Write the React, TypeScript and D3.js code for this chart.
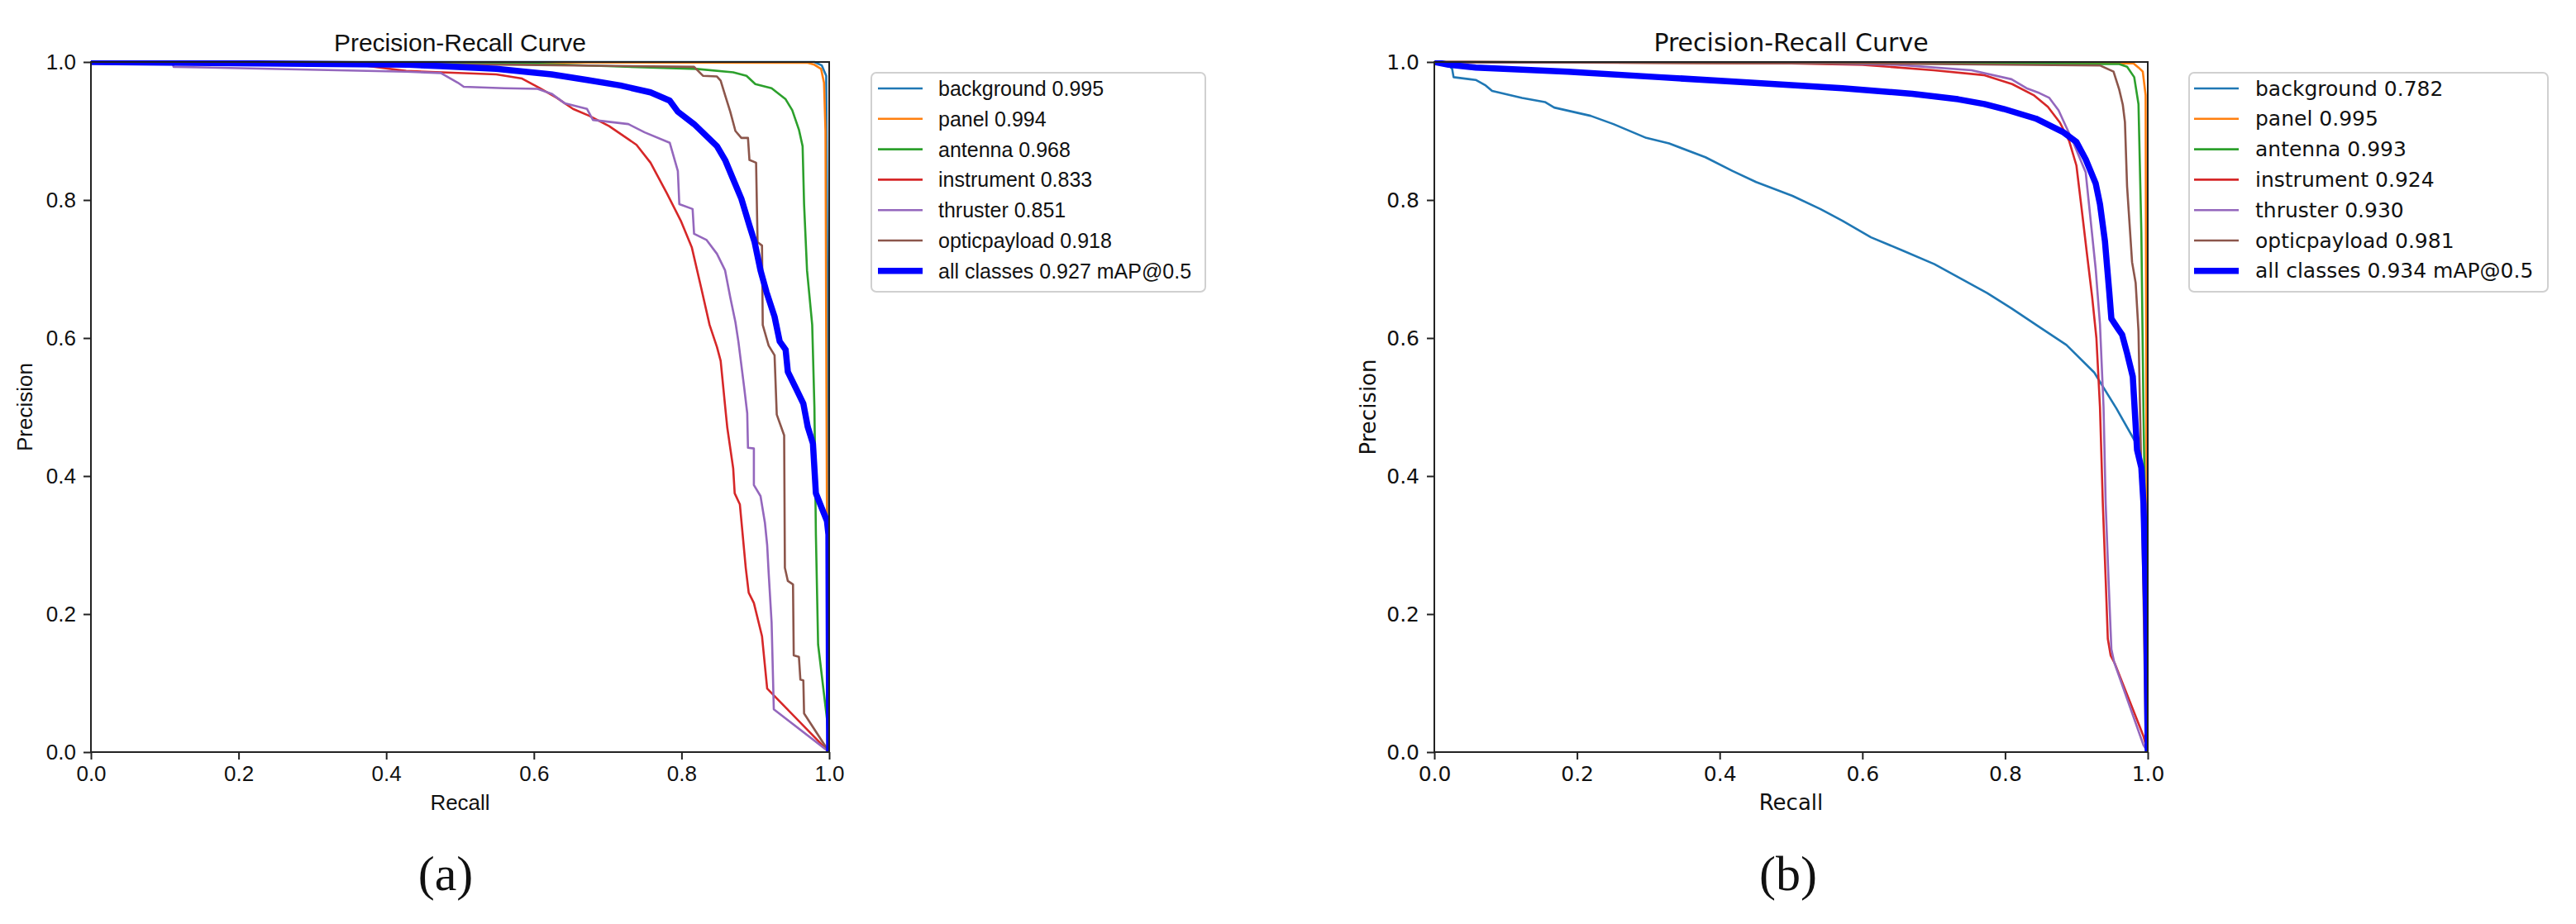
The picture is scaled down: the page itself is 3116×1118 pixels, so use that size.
import * as d3 from 'd3';
import { useRef, useEffect } from 'react';

type Pt = [number, number];

// CLASS NAMES, COLOURS, AP VALUES
const classNames = ['background', 'panel', 'antenna', 'instrument', 'thruster', 'opticpayload'];
const classColors = ['#1f77b4', '#ff7f0e', '#2ca02c', '#d62728', '#9467bd', '#8c564b'];
const allColor = '#0000ff';
const apA = ['0.995', '0.994', '0.968', '0.833', '0.851', '0.918'];
const mapA = '0.927';
const apB = ['0.782', '0.995', '0.993', '0.924', '0.930', '0.981'];
const mapB = '0.934';
const axisTicks = [0, 0.2, 0.4, 0.6, 0.8, 1.0];

// PANEL (a) CURVES  [recall, precision]
const aBackground: Pt[] = [[0, 1], [0.98, 1], [0.99, 0.995], [0.996, 0.98], [0.998, 0.6], [0.999, 0.3], [1, 0]];
const aPanel: Pt[] = [[0, 1], [0.97, 0.999], [0.98, 0.996], [0.989, 0.99], [0.993, 0.97], [0.995, 0.9], [0.996, 0.6], [0.997, 0.34], [1, 0]];
const aAntenna: Pt[] = [[0, 1], [0.58, 0.998], [0.7, 0.994], [0.82, 0.99], [0.87, 0.985], [0.888, 0.98], [0.9, 0.968], [0.922, 0.962], [0.941, 0.946], [0.95, 0.93], [0.959, 0.902], [0.964, 0.878], [0.966, 0.794], [0.97, 0.698], [0.977, 0.619], [0.98, 0.5], [0.982, 0.315], [0.985, 0.156], [0.997, 0.048], [1, 0]];
const aInstrument: Pt[] = [[0, 1], [0.37, 0.995], [0.427, 0.987], [0.549, 0.982], [0.584, 0.976], [0.608, 0.962], [0.631, 0.948], [0.653, 0.932], [0.675, 0.922], [0.702, 0.907], [0.739, 0.88], [0.758, 0.854], [0.78, 0.81], [0.799, 0.77], [0.814, 0.731], [0.827, 0.671], [0.838, 0.619], [0.848, 0.587], [0.853, 0.567], [0.86, 0.491], [0.862, 0.47], [0.87, 0.411], [0.872, 0.375], [0.879, 0.359], [0.887, 0.267], [0.891, 0.231], [0.898, 0.216], [0.909, 0.168], [0.916, 0.092], [1, 0]];
const aThruster: Pt[] = [[0, 1], [0.11, 1], [0.112, 0.993], [0.427, 0.986], [0.474, 0.984], [0.497, 0.97], [0.505, 0.964], [0.56, 0.962], [0.605, 0.961], [0.624, 0.954], [0.642, 0.94], [0.672, 0.932], [0.68, 0.916], [0.728, 0.91], [0.75, 0.898], [0.784, 0.883], [0.795, 0.842], [0.797, 0.794], [0.815, 0.787], [0.817, 0.751], [0.834, 0.742], [0.848, 0.722], [0.859, 0.698], [0.866, 0.659], [0.873, 0.623], [0.877, 0.595], [0.885, 0.527], [0.889, 0.491], [0.89, 0.441], [0.898, 0.44], [0.898, 0.387], [0.907, 0.371], [0.913, 0.332], [0.916, 0.3], [0.918, 0.26], [0.922, 0.188], [0.925, 0.062], [1, 0]];
const aOpticpayload: Pt[] = [[0, 1], [0.58, 0.996], [0.817, 0.993], [0.829, 0.98], [0.848, 0.979], [0.853, 0.973], [0.859, 0.952], [0.866, 0.928], [0.873, 0.9], [0.881, 0.89], [0.89, 0.89], [0.892, 0.858], [0.901, 0.854], [0.903, 0.739], [0.909, 0.734], [0.91, 0.619], [0.918, 0.589], [0.926, 0.575], [0.929, 0.489], [0.939, 0.459], [0.94, 0.267], [0.944, 0.248], [0.951, 0.243], [0.952, 0.14], [0.959, 0.138], [0.961, 0.105], [0.965, 0.104], [0.966, 0.056], [1, 0]];
const aAll: Pt[] = [[0, 1], [0.43, 0.996], [0.474, 0.994], [0.549, 0.99], [0.624, 0.982], [0.672, 0.974], [0.717, 0.966], [0.758, 0.956], [0.784, 0.944], [0.795, 0.928], [0.817, 0.91], [0.848, 0.878], [0.859, 0.858], [0.87, 0.83], [0.881, 0.802], [0.892, 0.763], [0.899, 0.739], [0.907, 0.698], [0.915, 0.667], [0.926, 0.631], [0.933, 0.595], [0.941, 0.583], [0.944, 0.551], [0.955, 0.527], [0.965, 0.505], [0.971, 0.471], [0.978, 0.447], [0.982, 0.375], [0.989, 0.356], [0.997, 0.335], [0.999, 0.315], [1, 0]];

// PANEL (b) CURVES
const bBackground: Pt[] = [[0, 1], [0.02, 0.996], [0.025, 0.99], [0.027, 0.978], [0.058, 0.974], [0.072, 0.966], [0.081, 0.958], [0.123, 0.948], [0.155, 0.942], [0.168, 0.934], [0.219, 0.922], [0.251, 0.91], [0.297, 0.89], [0.329, 0.882], [0.38, 0.862], [0.418, 0.842], [0.451, 0.826], [0.502, 0.806], [0.541, 0.787], [0.572, 0.77], [0.612, 0.746], [0.656, 0.727], [0.701, 0.707], [0.738, 0.686], [0.775, 0.665], [0.809, 0.643], [0.848, 0.616], [0.886, 0.59], [0.925, 0.55], [0.956, 0.498], [0.984, 0.447], [0.99, 0.416], [0.996, 0.3], [1, 0]];
const bPanel: Pt[] = [[0, 1], [0.98, 0.998], [0.987, 0.992], [0.993, 0.986], [0.997, 0.952], [0.998, 0.5], [1, 0]];
const bAntenna: Pt[] = [[0, 1], [0.96, 0.997], [0.971, 0.993], [0.981, 0.978], [0.987, 0.939], [0.991, 0.754], [0.994, 0.491], [0.999, 0.162], [1, 0]];
const bInstrument: Pt[] = [[0, 1], [0.5, 0.998], [0.6, 0.996], [0.7, 0.988], [0.77, 0.981], [0.81, 0.968], [0.84, 0.952], [0.86, 0.935], [0.877, 0.912], [0.89, 0.885], [0.9, 0.85], [0.907, 0.79], [0.915, 0.72], [0.922, 0.66], [0.928, 0.6], [0.933, 0.5], [0.937, 0.36], [0.941, 0.25], [0.944, 0.164], [0.948, 0.14], [0.954, 0.128], [0.994, 0.023], [1, 0]];
const bThruster: Pt[] = [[0, 1], [0.5, 0.999], [0.65, 0.996], [0.753, 0.988], [0.809, 0.975], [0.83, 0.962], [0.848, 0.955], [0.862, 0.948], [0.875, 0.93], [0.886, 0.905], [0.895, 0.885], [0.905, 0.86], [0.913, 0.84], [0.921, 0.76], [0.927, 0.7], [0.933, 0.62], [0.938, 0.5], [0.941, 0.36], [0.945, 0.25], [0.949, 0.149], [0.953, 0.13], [0.994, 0.01], [1, 0]];
const bOpticpayload: Pt[] = [[0, 1], [0.6, 0.998], [0.933, 0.995], [0.952, 0.986], [0.96, 0.96], [0.965, 0.938], [0.968, 0.913], [0.971, 0.82], [0.978, 0.71], [0.983, 0.68], [0.987, 0.61], [0.993, 0.293], [0.997, 0.03], [1, 0]];
const bAll: Pt[] = [[0, 1], [0.02, 0.996], [0.058, 0.992], [0.187, 0.986], [0.315, 0.978], [0.444, 0.97], [0.572, 0.962], [0.67, 0.954], [0.734, 0.946], [0.771, 0.939], [0.798, 0.932], [0.843, 0.918], [0.882, 0.898], [0.9, 0.884], [0.913, 0.859], [0.927, 0.824], [0.933, 0.794], [0.94, 0.74], [0.946, 0.667], [0.949, 0.628], [0.958, 0.614], [0.964, 0.605], [0.971, 0.578], [0.979, 0.544], [0.985, 0.438], [0.991, 0.412], [0.994, 0.36], [0.998, 0.195], [1, 0]];

const plotTop = 75;
const plotBottom = 910;

const panels = [
  {
    id: 'a',
    curves: [aBackground, aPanel, aAntenna, aInstrument, aThruster, aOpticpayload],
    all: aAll,
    aps: apA,
    map: mapA,
    left: 110,
    right: 1003,
    font: '"Liberation Sans", Arial, sans-serif',
    tickSize: 26,
    legendX: 1054,
    legendW: 404,
    handleX: 1062,
    textX: 1135,
    ylabelX: 30,
    captionX: 539,
  },
  {
    id: 'b',
    curves: [bBackground, bPanel, bAntenna, bInstrument, bThruster, bOpticpayload],
    all: bAll,
    aps: apB,
    map: mapB,
    left: 1735,
    right: 2598,
    font: '"DejaVu Sans", sans-serif',
    tickSize: 25,
    legendX: 2648,
    legendW: 434,
    handleX: 2654,
    textX: 2728,
    ylabelX: 1655,
    captionX: 2163,
  },
];

function Panel({ cfg }: { cfg: (typeof panels)[number] }) {
  const xAxisRef = useRef<SVGGElement>(null);
  const yAxisRef = useRef<SVGGElement>(null);

  const x = d3.scaleLinear().domain([0, 1]).range([cfg.left, cfg.right]);
  const y = d3.scaleLinear().domain([0, 1]).range([plotBottom, plotTop]);
  const line = d3
    .line<Pt>()
    .x((d) => x(d[0]))
    .y((d) => y(d[1]));

  useEffect(() => {
    const fmt = d3.format('.1f');
    const xg = d3
      .select(xAxisRef.current)
      .call(d3.axisBottom(x).tickValues(axisTicks).tickFormat((d) => fmt(d as number)).tickSize(9).tickPadding(8));
    const yg = d3
      .select(yAxisRef.current)
      .call(d3.axisLeft(y).tickValues(axisTicks).tickFormat((d) => fmt(d as number)).tickSize(9).tickPadding(9));
    [xg, yg].forEach((g) => {
      g.select('.domain').remove();
      g.attr('font-size', cfg.tickSize).attr('font-family', cfg.font);
      g.selectAll('line').attr('stroke', '#222').attr('stroke-width', 2);
      g.selectAll('text').attr('fill', '#111');
    });
  }, []);

  const midX = (cfg.left + cfg.right) / 2;
  const rowY = (i: number) => 107 + i * 36.8;
  const clipId = `clip-${cfg.id}`;

  return (
    <g>
      <clipPath id={clipId}>
        <rect x={cfg.left} y={plotTop - 2} width={cfg.right - cfg.left} height={plotBottom - plotTop + 2} />
      </clipPath>
      <g clipPath={`url(#${clipId})`}>
        {cfg.curves.map((c, i) => (
          <path key={i} d={line(c) ?? ''} fill="none" stroke={classColors[i]} strokeWidth={2.6} strokeLinejoin="round" />
        ))}
        <path d={line(cfg.all) ?? ''} fill="none" stroke={allColor} strokeWidth={7.5} strokeLinejoin="round" />
      </g>
      <rect
        x={cfg.left}
        y={plotTop}
        width={cfg.right - cfg.left}
        height={plotBottom - plotTop}
        fill="none"
        stroke="#222"
        strokeWidth={2}
      />
      <g ref={xAxisRef} transform={`translate(0,${plotBottom})`} />
      <g ref={yAxisRef} transform={`translate(${cfg.left},0)`} />

      <text x={midX} y={62} textAnchor="middle" fontFamily={cfg.font} fontSize={30} fill="#111">
        Precision-Recall Curve
      </text>
      <text x={midX} y={980} textAnchor="middle" fontFamily={cfg.font} fontSize={26} fill="#111">
        Recall
      </text>
      <text
        transform={`translate(${cfg.ylabelX},${(plotTop + plotBottom) / 2}) rotate(-90)`}
        textAnchor="middle"
        dominantBaseline="central"
        fontFamily={cfg.font}
        fontSize={26}
        fill="#111"
      >
        Precision
      </text>

      {/* legend */}
      <rect x={cfg.legendX} y={88} width={cfg.legendW} height={265} rx={6} fill="#fff" fillOpacity={0.8} stroke="#d0d0d0" strokeWidth={2} />
      {classNames.map((n, i) => (
        <g key={n}>
          <line x1={cfg.handleX} x2={cfg.handleX + 54} y1={rowY(i)} y2={rowY(i)} stroke={classColors[i]} strokeWidth={2.6} />
          <text x={cfg.textX} y={rowY(i)} dominantBaseline="central" fontFamily={cfg.font} fontSize={25} fill="#111">
            {`${n} ${cfg.aps[i]}`}
          </text>
        </g>
      ))}
      <line x1={cfg.handleX} x2={cfg.handleX + 54} y1={rowY(6)} y2={rowY(6)} stroke={allColor} strokeWidth={7.5} />
      <text x={cfg.textX} y={rowY(6)} dominantBaseline="central" fontFamily={cfg.font} fontSize={25} fill="#111">
        {`all classes ${cfg.map} mAP@0.5`}
      </text>

      <text x={cfg.captionX} y={1077} textAnchor="middle" fontFamily='"Liberation Serif", "Times New Roman", serif' fontSize={60} fill="#111">
        {`(${cfg.id})`}
      </text>
    </g>
  );
}

export default function App() {
  return (
    <svg
      width={3116}
      height={1118}
      style={{ position: 'absolute', left: 0, top: 0, display: 'block', background: '#fff' }}
    >
      <rect width={3116} height={1118} fill="#fff" />
      {panels.map((p) => (
        <Panel key={p.id} cfg={p} />
      ))}
    </svg>
  );
}
